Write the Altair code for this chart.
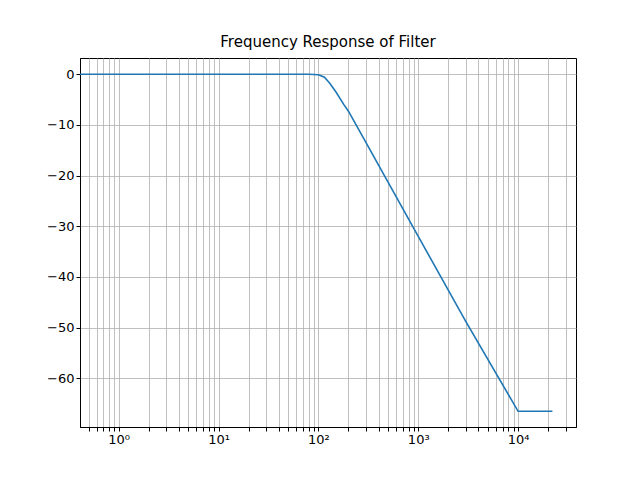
import altair as alt
import pandas as pd

freq = [0.41, 1, 10, 80, 100, 115, 130, 150, 180, 200, 300, 1000, 3000, 10000, 22050]
gain_db = [0, 0, 0, 0, -0.1, -0.6, -1.8, -3.5, -6, -7.3, -13.5, -32, -48.8, -66.5, -66.5]

df = pd.DataFrame({'freq': freq, 'gain': gain_db})

grid_vals = []
for p in [0.1, 1, 10, 100, 1000, 10000]:
    for m in range(1, 10):
        v = round(m * p, 6)
        if 0.41 <= v <= 38000:
            grid_vals.append(v)

label_expr = ("datum.value==1?'10⁰':datum.value==10?'10¹':datum.value==100?'10²':"
              "datum.value==1000?'10³':datum.value==10000?'10⁴':''")

chart = alt.Chart(df).mark_line(color='#1f77b4', strokeWidth=1.6).encode(
    x=alt.X('freq:Q', scale=alt.Scale(type='log', domain=[0.41, 38000], nice=False),
            axis=alt.Axis(values=grid_vals, labelExpr=label_expr, title=None,
                          labelFlush=False, labelOverlap=False)),
    y=alt.Y('gain:Q', scale=alt.Scale(domain=[-69.6, 3.2], nice=False, zero=False),
            axis=alt.Axis(values=[-60, -50, -40, -30, -20, -10, 0], title=None))
).properties(
    width=496, height=369,
    title=alt.Title('Frequency Response of Filter', fontSize=15, fontWeight='normal', offset=8),
    padding={'left': 72, 'top': 50, 'right': 56, 'bottom': 37},
    autosize='none'
).configure_axis(
    grid=True, gridColor='#b0b0b0', gridWidth=0.8, domainColor='black',
    tickColor='black', labelColor='black', labelFontSize=13, labelFont='DejaVu Sans',
    tickSize=4
).configure_title(font='DejaVu Sans', color='black').configure_view(stroke='black')

chart.save("out.html", embed_options={"renderer": "svg", "actions": False})
